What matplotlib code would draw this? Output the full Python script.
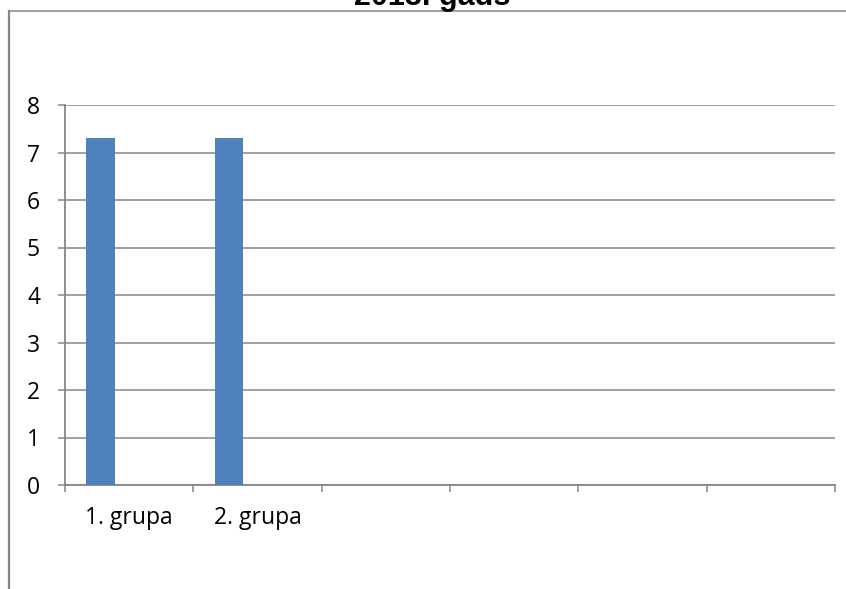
import matplotlib

matplotlib.use("Agg")
import matplotlib.pyplot as plt
from matplotlib.lines import Line2D

W, H = 846, 589

categories = ["1. grupa", "2. grupa", "", "", "", ""]
series_1 = [7.3, 7.3]
n_series = 3          # Excel-style clustered layout, only the first series has data
gap_width = 1.5       # gap between clusters, in bar widths
title = "2013. gads"

GRID = "#868686"
BAR = "#4F81BD"


def px(x, y):
    """pixel (from top-left) -> figure fraction"""
    return x / W, 1 - y / H


fig = plt.figure(figsize=(W / 100, H / 100), dpi=100)
ax = fig.add_axes([65 / W, 104 / H, 770 / W, 380 / H])

slot = 1.0 / (n_series + gap_width)
bar_x = [i + gap_width / 2 * slot + slot / 2 for i in range(len(series_1))]
ax.bar(bar_x, series_1, width=slot, color=BAR, zorder=3)

ax.set_xlim(0, len(categories))
ax.set_ylim(0, 8)
ax.set_yticks(range(0, 9))
ax.yaxis.grid(True, color=GRID, lw=1.1, zorder=0)

ax.set_xticks(range(0, len(categories) + 1))
ax.set_xticklabels([])
ax.set_xticks([i + 0.5 for i in range(len(categories))], minor=True)
ax.set_xticklabels(categories, minor=True)

for side in ("top", "right"):
    ax.spines[side].set_visible(False)
for side in ("left", "bottom"):
    ax.spines[side].set_color(GRID)
    ax.spines[side].set_linewidth(1.3)

ax.tick_params(axis="x", which="major", direction="out", length=5, width=1.1, color=GRID)
ax.tick_params(axis="x", which="minor", length=0, pad=15, labelsize=16.5)
ax.tick_params(axis="y", direction="out", length=5, width=1.1, color=GRID, pad=13, labelsize=16.5)
for lab in ax.get_xticklabels(minor=True) + ax.get_yticklabels():
    lab.set_fontfamily("Open Sans")
    lab.set_color("#000000")

# outer chart frame (partly cut off by the crop)
fig.add_artist(Line2D([px(9, 0)[0]] * 2, [px(0, 11)[1], 0], color=GRID, lw=1.6))
fig.add_artist(Line2D([px(9, 0)[0], 1], [px(0, 11)[1]] * 2, color=GRID, lw=1.1))

tx, ty = px(432, 5)
fig.text(tx, ty, title, ha="center", va="baseline", fontsize=22,
         fontweight="bold", fontfamily="Liberation Sans")

fig.savefig("out.png", dpi=100)
